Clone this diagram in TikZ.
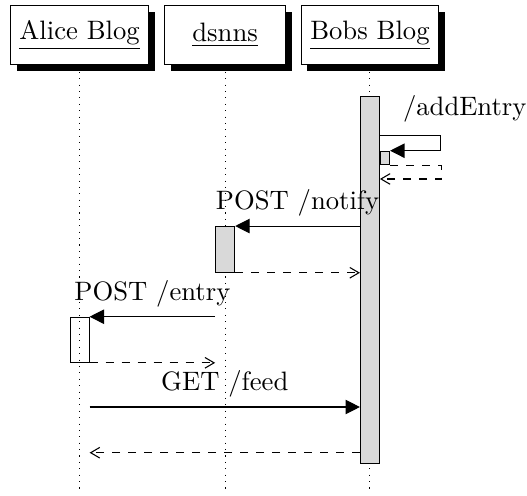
\documentclass[tikz,border=0pt]{standalone}
\usepackage{tikz}
\usetikzlibrary{arrows.meta,positioning,shadows}
\tikzset{
  inst/.style={draw, fill=white, minimum width=1.6cm, minimum height=0.78cm,
               drop shadow={shadow xshift=0.08cm, shadow yshift=-0.085cm, fill=black, opacity=1}},
  actbar/.style={draw, fill=gray!30, minimum width=0.25cm, inner sep=0pt},
  msg/.style={-{Triangle[length=1.9mm,width=1.9mm]}},
  reply/.style={dashed, -{Straight Barb[length=1.2mm,width=1.4mm]}},
}

\begin{document}
\begin{tikzpicture}
  \useasboundingbox (0,0) rectangle (6.952,-6.53);
  \node[inst] (alice) at (1.05,-0.466) {\underline{Alice Blog}};
  \node[inst] (dsnns) at (2.97,-0.466) {\underline{dsnns}};
  \node[inst] (bobs)  at (4.88,-0.466) {\underline{Bobs Blog}};
  \foreach \n in {alice,dsnns,bobs} { \draw[dotted] (\n.south) -- ++(0,-5.65); }
  % activations
  \node[actbar, anchor=north, minimum height=4.842cm] (bobsbar) at (bobs |- 0,-1.266) {};
  \node[actbar, anchor=north west, minimum width=0.12cm, minimum height=0.176cm] (selfbar) at (bobsbar.east |- 0,-1.988) {};
  \node[actbar, anchor=north, minimum height=0.602cm] (notifybar) at (dsnns |- 0,-2.982) {};
  \node[actbar, fill=none, anchor=north, minimum height=0.594cm] (entrybar) at (alice |- 0,-4.178) {};
  % messages
  \coordinate (addin) at (bobsbar.east |- 0,-1.79);
  \coordinate (addout) at (bobsbar.east |- 0,-2.361);
  \draw[msg] (addin) -- ++(0.8,0) |- (selfbar.north east);
  \node[anchor=base west, inner sep=0pt] (addlbl) at (5.31,-1.53) {/addEntry};
  \draw[reply] (selfbar.south east) -- ++(0.68,0) |- (addout);
  \draw[msg] (bobsbar.west |- notifybar.north) -- node[above] (notifylbl) {POST /notify} (notifybar.north east);
  \draw[reply] (notifybar.south east) -- (bobsbar.west |- notifybar.south);
  \draw[msg] (notifybar.west |- entrybar.north) -- node[above] (entrylbl) {POST /entry} (entrybar.north east);
  \draw[reply] (entrybar.south east) -- (notifybar.west |- entrybar.south);
  \coordinate (feedin) at (entrybar.east |- 0,-5.369);
  \coordinate (feedout) at (entrybar.east |- 0,-5.972);
  \draw[msg] (feedin) -- node[above] (feedlbl) {GET /feed} (bobsbar.west |- feedin);
  \draw[reply] (bobsbar.west |- feedout) -- (feedout);
\end{tikzpicture}
\end{document}
